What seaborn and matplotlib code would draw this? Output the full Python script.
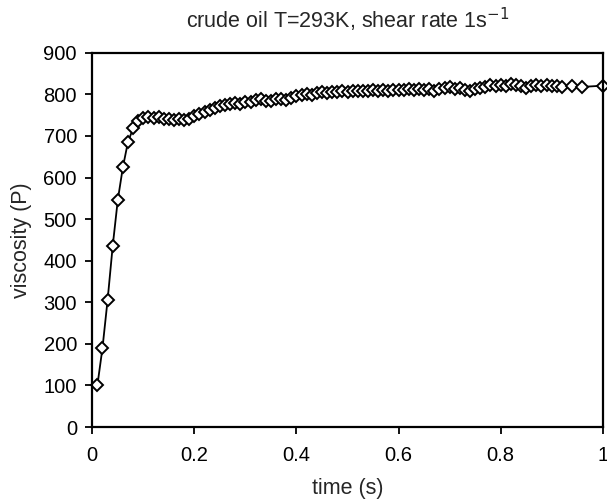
import matplotlib
matplotlib.use("Agg")
import matplotlib.pyplot as plt
import seaborn as sns
import pandas as pd

time_s = [0.01, 0.02, 0.03, 0.04, 0.05, 0.06, 0.07, 0.08, 0.09, 0.10,
          0.11, 0.12, 0.13, 0.14, 0.15, 0.16, 0.17, 0.18, 0.19, 0.20,
          0.21, 0.22, 0.23, 0.24, 0.25, 0.26, 0.27, 0.28, 0.29, 0.30,
          0.31, 0.32, 0.33, 0.34, 0.35, 0.36, 0.37, 0.38, 0.39, 0.40,
          0.41, 0.42, 0.43, 0.44, 0.45, 0.46, 0.47, 0.48, 0.49, 0.50,
          0.51, 0.52, 0.53, 0.54, 0.55, 0.56, 0.57, 0.58, 0.59, 0.60,
          0.61, 0.62, 0.63, 0.64, 0.65, 0.66, 0.67, 0.68, 0.69, 0.70,
          0.71, 0.72, 0.73, 0.74, 0.75, 0.76, 0.77, 0.78, 0.79, 0.80,
          0.81, 0.82, 0.83, 0.84, 0.85, 0.86, 0.87, 0.88, 0.89, 0.90,
          0.91, 0.92, 0.94, 0.96, 1.00]
viscosity_P = [100, 190, 305, 435, 546, 625, 686, 718, 735, 743,
               746, 743, 745, 741, 742, 738, 740, 738, 742, 748,
               752, 758, 762, 767, 771, 775, 778, 780, 778, 782,
               781, 786, 789, 784, 783, 788, 790, 787, 792, 796,
               798, 801, 799, 803, 805, 803, 806, 805, 808, 806,
               808, 807, 809, 808, 810, 808, 810, 809, 811, 810,
               810, 812, 810, 812, 811, 813, 809, 812, 815, 818,
               813, 815, 811, 808, 812, 815, 818, 822, 820, 823,
               821, 826, 822, 819, 816, 820, 823, 821, 822, 820,
               819, 817, 820, 818, 821]

x_ticks = [0, 0.2, 0.4, 0.6, 0.8, 1.0]
x_ticklabels = ["0", "0.2", "0.4", "0.6", "0.8", "1"]
y_ticks = [0, 100, 200, 300, 400, 500, 600, 700, 800, 900]

df = pd.DataFrame({"time": time_s, "viscosity": viscosity_P})

sns.set_style("ticks")
plt.rcParams["font.family"] = ["Liberation Sans", "DejaVu Sans"]

fig = plt.figure(figsize=(6.07, 5.03), dpi=100)
ax = fig.add_axes([0.152, 0.151, 0.841, 0.744])

sns.lineplot(data=df, x="time", y="viscosity", ax=ax, color="black",
             linewidth=1.3, marker="D", markersize=6.5,
             markerfacecolor="white", markeredgecolor="black",
             markeredgewidth=1.4, clip_on=False)

ax.set_xlim(0, 1)
ax.set_ylim(0, 900)
ax.set_xticks(x_ticks)
ax.set_xticklabels(x_ticklabels)
ax.set_yticks(y_ticks)
for side in ["left", "bottom", "top", "right"]:
    ax.spines[side].set_visible(True)
    ax.spines[side].set_linewidth(1.6)
    ax.spines[side].set_color("black")
ax.tick_params(axis="both", direction="out", length=5, width=1.3,
               labelsize=14.5, colors="black", pad=6)
ax.tick_params(axis="x", pad=9)
ax.set_xlabel("time (s)", fontsize=15.5, labelpad=9)
ax.set_ylabel("viscosity (P)", fontsize=15.5, labelpad=8)
ax.set_title("crude oil T=293K, shear rate 1s$^{-1}$", fontsize=15.5, pad=18)

fig.savefig("out.png", dpi=100)
